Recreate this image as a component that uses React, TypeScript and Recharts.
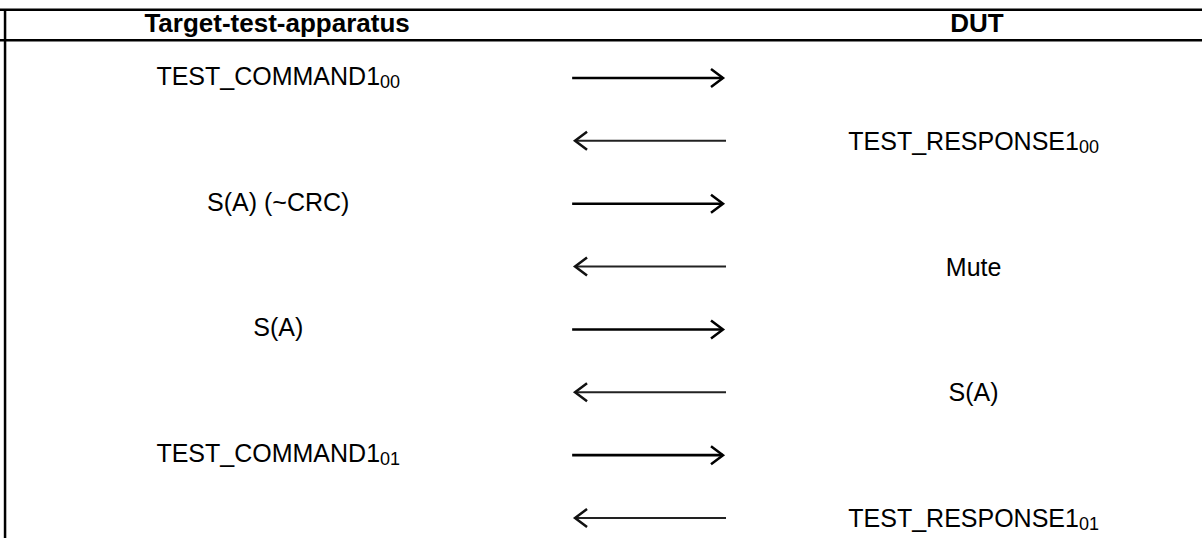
import React from "react";
import { ComposedChart, Scatter, XAxis, YAxis, ReferenceLine } from "recharts";

// lanes of the sequence table
const laneNames = ["Target-test-apparatus", "DUT"];

// messages, top to bottom: who sends, what, and the subscript of the frame
const messageSenders = [0, 1, 0, 1, 0, 1, 0, 1];
const messageTexts = [
  "TEST_COMMAND1",
  "TEST_RESPONSE1",
  "S(A) (~CRC)",
  "Mute",
  "S(A)",
  "S(A)",
  "TEST_COMMAND1",
  "TEST_RESPONSE1",
];
const messageSubs = ["00", "00", "", "", "", "", "01", "01"];

// layout (axis units)
const HEADER_X = [23.05, 81.28];
const LANE_X = [23.15, 81.0];
const RIGHT_ARROW_X = [47.6, 60.15];
const LEFT_ARROW_X = [60.4, 47.84];
const Y_DOMAIN: [number, number] = [-1.241, 7.318];
const HEADER_Y = -0.875;
const TOP_LINE_Y = -1.085;
const HEAD_LINE_Y = -0.6;
const BORDER_X = 0.42;
const FONT = "'Liberation Sans', Arial, sans-serif";

const headerData = laneNames.map((name, i) => ({ x: HEADER_X[i], y: HEADER_Y, text: name }));

const labelData = messageTexts.map((text, i) => ({
  x: LANE_X[messageSenders[i]],
  y: i,
  text,
  sub: messageSubs[i],
  left: messageSenders[i] === 0,
}));

// one two-point series per arrow, drawn from sender towards receiver
const arrowSeries = messageSenders.map((s, i) => {
  const toRight = s === 0;
  const [start, end] = toRight ? RIGHT_ARROW_X : LEFT_ARROW_X;
  return [
    { x: start, y: i, head: false, dir: toRight ? 1 : -1 },
    { x: end, y: i, head: true, dir: toRight ? 1 : -1 },
  ];
});

const ArrowHead = (props: any) => {
  const { cx, cy, payload } = props;
  if (!payload || !payload.head) return <g />;
  const d = payload.dir;
  return (
    <path
      d={`M${cx - d * 12},${cy - 9} L${cx},${cy} L${cx - d * 12},${cy + 9}`}
      fill="none"
      stroke={d > 0 ? "#000" : "#111"}
      strokeWidth={2.5}
      strokeLinejoin="miter"
    />
  );
};

const HeaderText = (props: any) => {
  const { cx, cy, payload } = props;
  return (
    <text x={cx} y={cy + 9} textAnchor="middle" fontFamily={FONT} fontWeight="bold" fontSize={26} fill="#000">
      {payload.text}
    </text>
  );
};

const MessageText = (props: any) => {
  const { cx, cy, payload } = props;
  return (
    <text
      x={cx}
      y={cy + (payload.left ? 7 : 9)}
      textAnchor="middle"
      fontFamily={FONT}
      fontSize={25}
      fill="#000"
    >
      {payload.text}
      {payload.sub ? (
        <tspan fontSize={18} dy={3}>
          {payload.sub}
        </tspan>
      ) : null}
    </text>
  );
};

export default function App() {
  return (
    <div style={{ width: 1202, height: 538, background: "#fff" }}>
      <style>{`body{margin:0}`}</style>
      <ComposedChart width={1202} height={538} margin={{ top: 0, right: 0, bottom: 0, left: 0 }}>
        <XAxis type="number" dataKey="x" domain={[0, 100]} hide allowDataOverflow />
        <YAxis type="number" dataKey="y" domain={Y_DOMAIN} reversed hide allowDataOverflow />
        <ReferenceLine
          segment={[{ x: 0, y: TOP_LINE_Y }, { x: 100, y: TOP_LINE_Y }]}
          stroke="#000"
          strokeWidth={2.5}
          ifOverflow="visible"
        />
        <ReferenceLine
          segment={[{ x: 0, y: HEAD_LINE_Y }, { x: 100, y: HEAD_LINE_Y }]}
          stroke="#000"
          strokeWidth={2.5}
          ifOverflow="visible"
        />
        <ReferenceLine
          segment={[{ x: BORDER_X, y: TOP_LINE_Y }, { x: BORDER_X, y: Y_DOMAIN[1] }]}
          stroke="#000"
          strokeWidth={2.5}
          ifOverflow="visible"
        />
        <Scatter data={headerData} shape={<HeaderText />} isAnimationActive={false} />
        <Scatter data={labelData} shape={<MessageText />} isAnimationActive={false} />
        {arrowSeries.map((pts, i) => {
          const toRight = pts[0].dir > 0;
          return (
            <Scatter
              key={i}
              data={pts}
              fill="#000"
              line={{ stroke: toRight ? "#000" : "#222", strokeWidth: toRight ? 2.6 : 2 }}
              shape={<ArrowHead />}
              isAnimationActive={false}
            />
          );
        })}
      </ComposedChart>
    </div>
  );
}
